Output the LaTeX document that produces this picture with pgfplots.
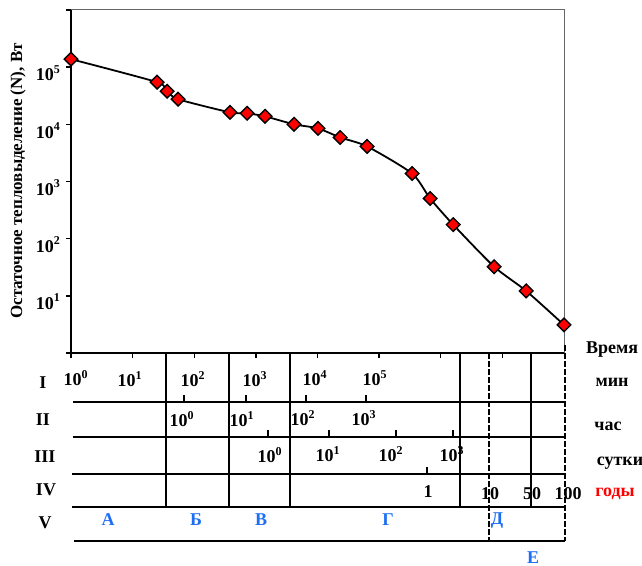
\documentclass[border=0pt]{standalone}
\usepackage{pgfplots}
\pgfplotsset{compat=1.18}
\usepackage{fontspec}
\setmainfont{Liberation Serif}
\definecolor{myblue}{RGB}{30,110,245}
\definecolor{myred}{RGB}{255,0,0}
\newcommand{\tkf}{\bfseries\fontsize{9}{10}\selectfont}
\newcommand{\pw}[2]{#1\textsuperscript{#2}}
\begin{document}
\begin{tikzpicture}
\useasboundingbox (0pt,0pt) rectangle (321pt,-283pt);
\begin{axis}[at={(35.5pt,-176.5pt)}, anchor=south west, scale only axis,
  width=246.5pt, height=171.5pt,
  xmode=log, ymode=log, xmin=1, xmax=1e8, ymin=1, ymax=1e6,
  axis lines=left, axis line style={-, line width=0.8pt},
  xtick={1,10,100,1000,1e4,1e5,1e6,1e7}, xticklabels={},
  ytick={1,10,100,1000,1e4,1e5,1e6},
  yticklabels={,\pw{10}{1},\pw{10}{2},\pw{10}{3},\pw{10}{4},\pw{10}{5},},
  xminorticks=false, yminorticks=false,
  tick align=outside, major tick length=2.5pt, tick style={black, line width=0.7pt},
  yticklabel style={font=\tkf, anchor=east, yshift=-3pt, xshift=1pt},
  clip=false,
]
\addplot[black, line width=0.9pt, smooth, tension=0.4, mark=square*, mark size=2.4pt,
  mark options={rotate=45, fill=red, draw=black, line width=0.7pt, solid}] table {
x y
1 1.38e5
24.9 5.46e4
36.2 3.79e4
54.6 2.75e4
381 1.62e4
720 1.56e4
1410 1.38e4
4170 1.0e4
1.02e4 8.5e3
2.33e4 5.9e3
6.38e4 4.11e3
3.43e5 1.38e3
6.73e5 504
1.59e6 176
7.36e6 32.3
2.43e7 12.2
1e8 3.1
};
\draw[black!60, line width=0.5pt] (rel axis cs:0,1) -- (rel axis cs:1,1) -- (rel axis cs:1,0);
\end{axis}
\begin{scope}[x=0.5pt,y=-0.5pt, line width=0.7pt]
\draw (73,402) -- (565,402);
\draw (73,437) -- (565,437);
\draw (72,474) -- (565,474);
\draw (72,507) -- (565,507);
\draw (74,541) -- (565,541);
\foreach \x in {166,229,290,460,531} \draw (\x,353) -- (\x,507);
\draw[line width=1.2pt, dash pattern=on 3pt off 1pt] (489,353) -- (489,541);
\draw[line width=1.2pt, dash pattern=on 3pt off 1pt] (565,345) -- (565,541);
\foreach \x in {184,246,306,366} \draw (\x,402) -- (\x,395);
\foreach \x in {268,329,396,453} \draw (\x,437) -- (\x,430);
\draw (427,474) -- (427,467);
\draw (531,474) -- (531,467);
% row I minutes
\node[font=\tkf] at (76,378) {\pw{10}{0}};
\node[font=\tkf] at (130,379) {\pw{10}{1}};
\node[font=\tkf] at (193,379) {\pw{10}{2}};
\node[font=\tkf] at (255,379) {\pw{10}{3}};
\node[font=\tkf] at (315,378) {\pw{10}{4}};
\node[font=\tkf] at (375,378) {\pw{10}{5}};
% row II hours
\node[font=\tkf] at (182,419) {\pw{10}{0}};
\node[font=\tkf] at (242,419) {\pw{10}{1}};
\node[font=\tkf] at (303,418) {\pw{10}{2}};
\node[font=\tkf] at (364,418) {\pw{10}{3}};
% row III days
\node[font=\tkf] at (270,455) {\pw{10}{0}};
\node[font=\tkf] at (328,454) {\pw{10}{1}};
\node[font=\tkf] at (391,454) {\pw{10}{2}};
\node[font=\tkf] at (452,454) {\pw{10}{3}};
% row IV years
\node[font=\tkf] at (428,492) {1};
\node[font=\tkf] at (490,494) {10};
\node[font=\tkf] at (532,494) {50};
\node[font=\tkf] at (568,494) {100};
% right labels
\node[font=\tkf] at (612,350) {Время};
\node[font=\tkf] at (612,382) {мин};
\node[font=\tkf] at (608,426) {час};
\node[font=\tkf] at (620,463) {сутки};
\node[font=\tkf, text=myred] at (615,494) {годы};
% roman numerals
\node[font=\tkf] at (43,383) {I};
\node[font=\tkf] at (43,420) {II};
\node[font=\tkf] at (45,457) {III};
\node[font=\tkf] at (46,490) {IV};
\node[font=\tkf] at (45,523) {V};
% regions
\node[font=\tkf, text=myblue] at (108,520) {А};
\node[font=\tkf, text=myblue] at (196,520) {Б};
\node[font=\tkf, text=myblue] at (261,520) {В};
\node[font=\tkf, text=myblue] at (388,520) {Г};
\node[font=\tkf, text=myblue] at (497,521) {Д};
\node[font=\tkf, text=myblue] at (533,558) {Е};
% y label
\node[rotate=90, font=\bfseries\fontsize{8.5}{10}\selectfont] at (18,181) {Остаточное тепловыделение (N), Вт};
\end{scope}
\end{tikzpicture}
\end{document}
